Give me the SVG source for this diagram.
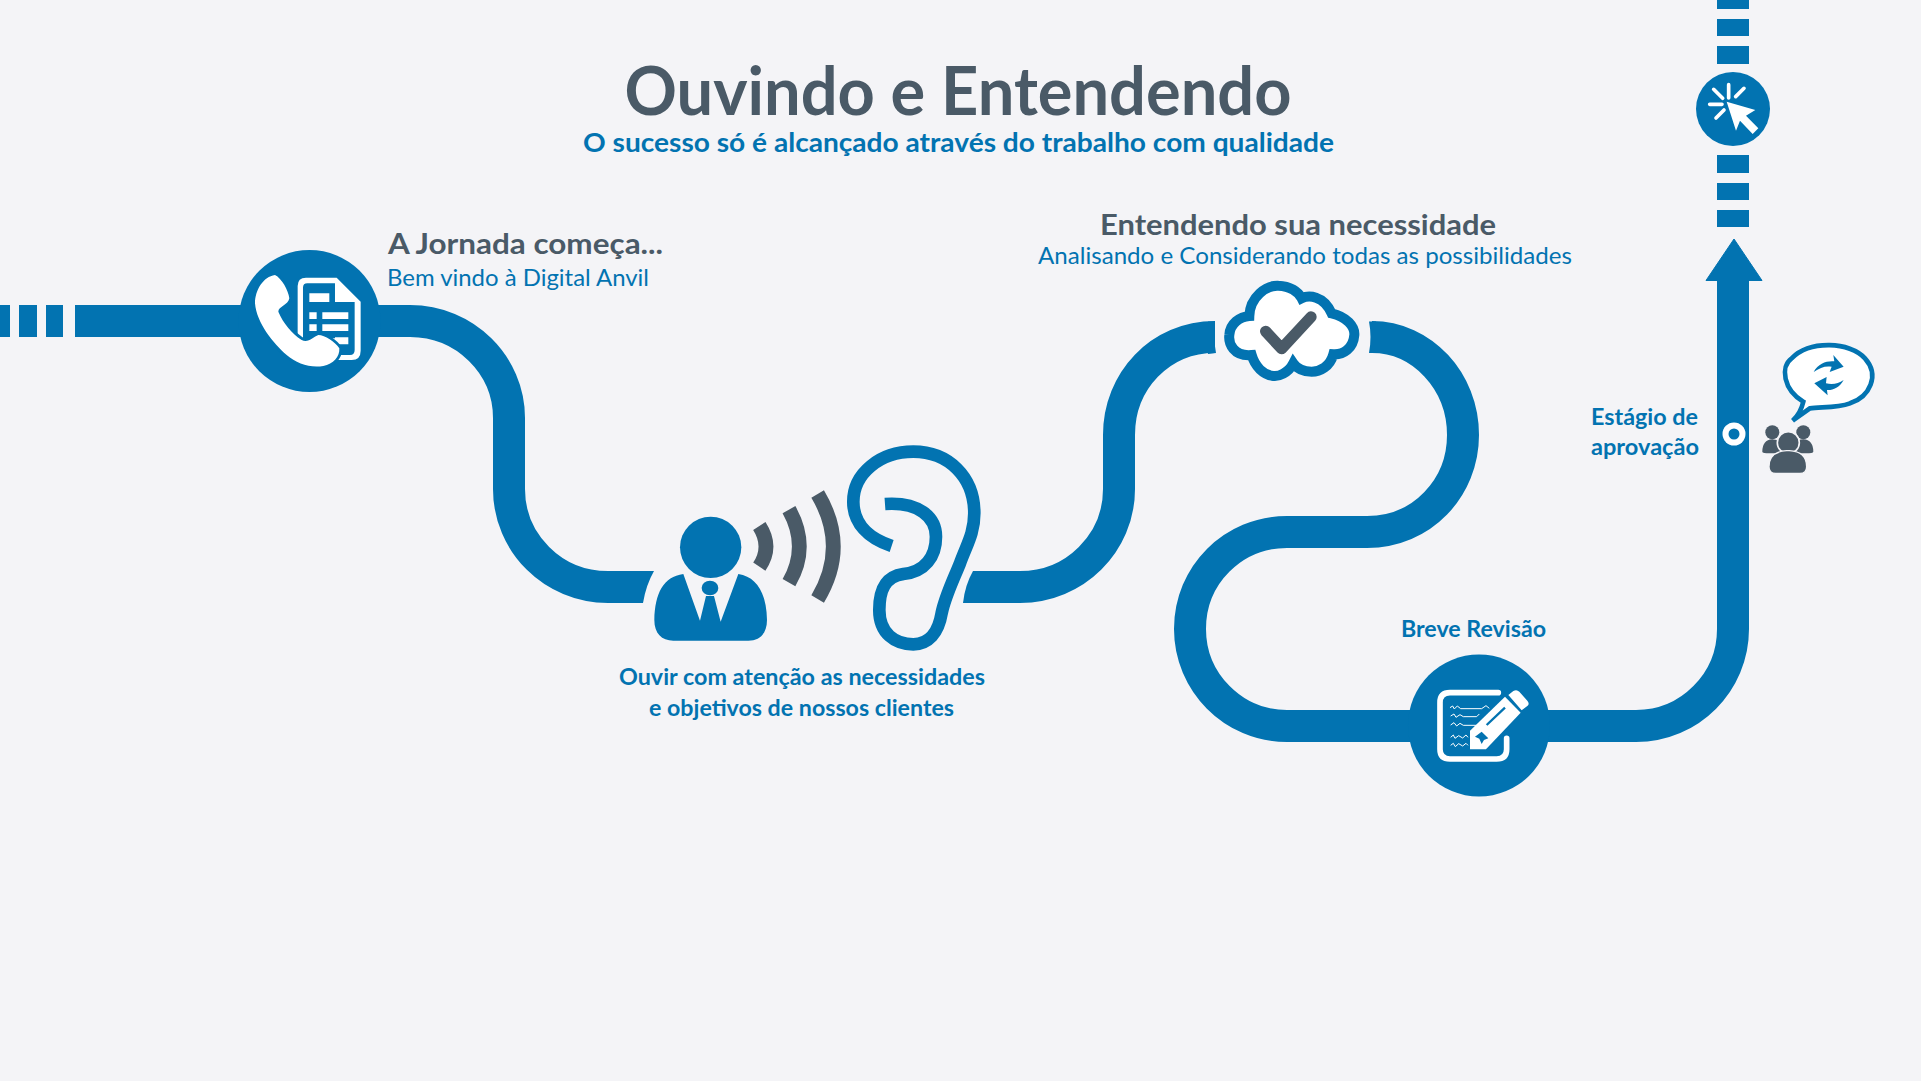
<svg xmlns="http://www.w3.org/2000/svg" width="1921" height="1081" viewBox="0 0 1921 1081">
<style>
.b{fill:#0273b1}.d{fill:#4a5a67}.w{fill:#fff}
.r{fill:none;stroke:#0273b1;stroke-width:32}
.t{font-family:Lato,"Open Sans","Liberation Sans",sans-serif}
.hb{font-weight:700;fill:#0273b1}.hd{font-weight:700;fill:#4a5a67}.n{font-weight:400;fill:#0273b1}
</style>
<rect width="1921" height="1081" fill="#f4f4f7"/>
<g id="connectors">
<rect class="b" x="0" y="305" width="10" height="32"/><rect class="b" x="19" y="305" width="18" height="32"/><rect class="b" x="46" y="305" width="17" height="32"/>
<path class="r" d="M75,321H410C465,321 509,365 509,418V489C509,543 553,587 608,587H640"/>
<path class="b" d="M640,571H654Q646,585 643,603H640Z"/>
<path class="b" d="M973,571H1020V603H963Q965,585 973,571Z"/>
<path class="r" d="M1015,587H1020C1075,587 1119,543 1119,489V435C1119,381 1160,337 1215,337"/>
<path class="b" d="M1208,321.500Q1212,321.500 1215,321.500Q1213,337 1216,353L1208,354Z"/>
<path class="b" d="M1369,321.500H1376V353H1369Q1372,337 1369,321.500Z"/>
<path class="r" d="M1372,337C1422,337 1463,381 1463,435C1463,488 1422,532 1367,532H1287C1233,532 1190,575 1190,629C1190,682 1233,726 1287,726H1636C1690,726 1733,682 1733,629V275"/>
<path class="b" d="M1734,239L1762,280.500H1706Z" stroke="#0273b1" stroke-width="1" stroke-linejoin="round"/>
<rect class="b" x="1717" y="210" width="32" height="17"/><rect class="b" x="1717" y="183" width="32" height="17"/><rect class="b" x="1717" y="155" width="32" height="18"/>
<rect class="b" x="1717" y="46" width="32" height="18"/><rect class="b" x="1717" y="19" width="32" height="17"/><rect class="b" x="1717" y="0" width="32" height="9"/>
</g>
<g id="title">
<text class="t hd" x="958" y="115" font-size="66" text-anchor="middle" textLength="667" lengthAdjust="spacingAndGlyphs">Ouvindo e Entendendo</text>
<text class="t hb" x="958.500" y="152" font-size="27" text-anchor="middle" textLength="751" lengthAdjust="spacingAndGlyphs">O sucesso só é alcançado através do trabalho com qualidade</text>
</g>
<g id="node-phone">
<circle class="b" cx="309.500" cy="321" r="71"/>
<g transform="translate(220,240) scale(.3333)">
<path class="w" d="M233,300V138Q233,113 258,113H350L422,185V332Q422,360 395,360H350V300Z"/>
<path class="b" d="M249,295V143Q249,130 262,130H345V186H404V330Q404,345 390,345H345V295Z"/>
<path class="w" d="M268,160H328V186H268ZM268,217H290V237H268ZM307,217H385V237H307ZM268,253H290V273H268ZM307,253H385V273H307ZM345,292H385V313H345Z"/>
<path class="w" d="M165,105C130,110 105,150 105,190C110,250 160,310 200,345C230,370 270,385 310,378C340,372 360,350 358,325C345,305 315,285 295,285C280,290 265,310 245,300C215,280 190,250 175,215C175,200 205,195 208,175C205,150 185,115 165,105Z" stroke="#0273b1" stroke-width="16" paint-order="stroke"/>
</g>
</g>
<g id="label-jornada">
<text class="t hd" x="388" y="254" font-size="29" textLength="275" lengthAdjust="spacingAndGlyphs">A Jornada começa...</text>
<text class="t n" x="387" y="286" font-size="24" textLength="262" lengthAdjust="spacingAndGlyphs">Bem vindo à Digital Anvil</text>
</g>
<g id="node-listen">
<g transform="translate(620,430) scale(.3333)">
<circle class="b" cx="272" cy="352" r="92"/>
<path class="b" d="M190,432L240,572L258,498H282L302,575L355,432C410,440 440,490 441,570C441,610 420,632 385,632H160C125,632 103,610 103,570C105,490 130,440 190,432Z"/>
<ellipse class="b" cx="270" cy="474" rx="25" ry="22"/>
<g fill="none" stroke="#4a5a67" stroke-width="44">
<path d="M418,288Q458,350 418,410"/>
<path d="M507,239Q569,350 507,458"/>
<path d="M593,192Q687,350 593,507"/>
</g>
<path d="M815,348C745,325 700,280 700,215C700,130 780,65 880,65C985,65 1063,140 1063,250C1063,310 1040,345 1020,400C1000,450 975,500 965,550C955,610 925,643 880,643C825,643 778,610 778,540C778,480 795,440 850,432C915,425 948,380 948,320C948,260 895,215 795,222" fill="none" stroke="#0273b1" stroke-width="38"/>
</g>
<text class="t hb" x="802" y="685" font-size="23.500" text-anchor="middle" textLength="366" lengthAdjust="spacingAndGlyphs">Ouvir com atenção as necessidades</text>
<text class="t hb" x="801.500" y="716" font-size="23.500" text-anchor="middle" textLength="305" lengthAdjust="spacingAndGlyphs">e objetivos de nossos clientes</text>
</g>
<g id="node-cloud">
<g transform="translate(1180,260) scale(.3333)">
<path d="M215,285C160,290 145,250 148,225C150,190 180,170 208,168C210,110 260,75 295,77C330,78 355,95 365,115C385,105 430,105 455,160C500,170 525,200 523,225C520,265 490,285 460,283C450,320 420,335 395,335C370,335 350,325 340,310C325,340 295,350 280,348C250,345 225,320 215,285Z" fill="#fff" stroke="#0273b1" stroke-width="30"/>
<path d="M257,214L305,266L393,171" fill="none" stroke="#4a5a67" stroke-width="34" stroke-linecap="round" stroke-linejoin="round"/>
</g>
<text class="t hd" x="1298" y="235" font-size="29" text-anchor="middle" textLength="396" lengthAdjust="spacingAndGlyphs">Entendendo sua necessidade</text>
<text class="t n" x="1305" y="264" font-size="24" text-anchor="middle" textLength="534" lengthAdjust="spacingAndGlyphs">Analisando e Considerando todas as possibilidades</text>
</g>
<g id="node-review">
<circle class="b" cx="1479" cy="725.500" r="71"/>
<g transform="translate(1380,640) scale(.3333)">
<path d="M355,158H210Q180,158 180,188V328Q180,357 210,357H350Q380,357 380,328V295" fill="none" stroke="#fff" stroke-width="17" stroke-linecap="round"/>
<path class="w" d="M270,272L375,170L422,218L318,328H270Z"/>
<path class="w" d="M385,165L400,153Q410,147 418,155L442,182Q450,192 442,198L425,211Z"/>
<path d="M320,255L375,203" stroke="#0273b1" stroke-width="7" fill="none"/>
<path class="b" d="M285,290L305,275L325,295L312,300L305,312L298,296Z"/>
<g fill="none" stroke="#fff" stroke-width="3">
<path d="M210,203L218,198L223,207L232,198L242,206H305L318,197L328,205"/>
<path d="M212,228L222,222L228,232L240,224L250,230H290L298,222"/>
<path d="M212,255L222,248L230,258L240,250L250,256H292"/>
<path d="M212,292L220,285L225,295L236,287L248,294L258,285L264,292"/>
<path d="M212,316L220,310L226,320L236,311L248,318L258,310L264,316"/>
</g>
</g>
<text class="t hb" x="1473.500" y="637" font-size="23.500" text-anchor="middle" textLength="145" lengthAdjust="spacingAndGlyphs">Breve Revisão</text>
</g>
<g id="node-approval">
<circle class="w" cx="1734" cy="434" r="11.500"/><circle class="b" cx="1734" cy="434" r="5.500"/>
<text class="t hb" x="1591" y="425" font-size="23.500" textLength="107" lengthAdjust="spacingAndGlyphs">Estágio de</text>
<text class="t hb" x="1591" y="455" font-size="23.500" textLength="108" lengthAdjust="spacingAndGlyphs">aprovação</text>
<g transform="translate(1570,320) scale(.3333)">
<path d="M700,245C640,210 630,140 665,115C720,60 840,65 885,115C930,165 900,230 840,250C800,265 750,260 720,265L668,302Q692,280 700,245Z" fill="#fff" stroke="#0273b1" stroke-width="14"/>
<path class="b" d="M731,156C745,130 770,122 793,124L790,105L821,140L779,156L785,140C765,137 750,143 731,156Z"/>
<path class="b" d="M821,180C808,205 785,212 771,210L773,226L733,190L770,171L768,190C790,195 805,190 821,180Z"/>
<circle class="d" cx="607" cy="337" r="21"/><circle class="d" cx="700" cy="337" r="21"/>
<path class="d" d="M577,395Q577,360 607,358Q640,360 640,395Q640,400 600,400Q577,400 577,395ZM730,395Q730,360 700,358Q667,360 667,395Q667,400 707,400Q730,400 730,395Z"/>
<circle class="d" cx="655" cy="368" r="33" stroke="#f4f4f7" stroke-width="5"/>
<path class="d" d="M597,440Q597,395 650,392H658Q710,395 710,440Q710,460 690,460H617Q597,460 597,440Z" stroke="#f4f4f7" stroke-width="4"/>
</g>
</g>
<g id="node-click">
<circle class="b" cx="1733" cy="109" r="37"/>
<g transform="translate(1680,0) scale(.3333)">
<path class="w" d="M140,305L226,330L198,347L235,385L218,402L180,362L168,392Z"/>
<g stroke="#fff" stroke-width="11" stroke-linecap="round" fill="none">
<path d="M146,254V294M192,265L167,290M89,313H126M101,268L128,295M108,354L132,330"/>
</g>
</g>
</g>
</svg>
